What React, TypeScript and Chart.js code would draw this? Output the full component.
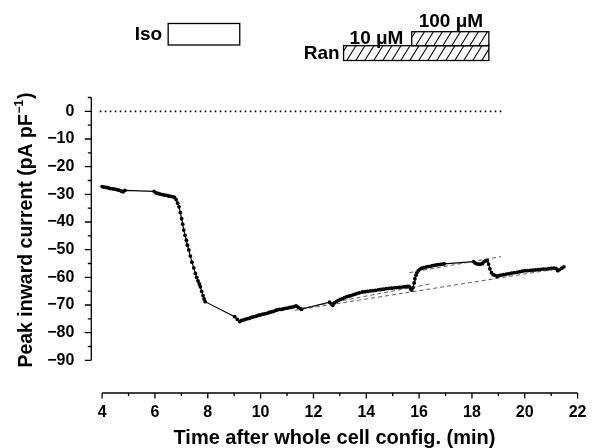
import React, { useEffect, useRef } from 'react';
import { Chart, registerables } from 'chart.js';

Chart.register(...registerables);

// ---- data ----
const timeMin = [
  4.0, 4.08, 4.16, 4.24, 4.32, 4.4, 4.48, 4.56, 4.64, 4.72, 4.79, 4.86,
  5.97, 6.04, 6.12, 6.2, 6.28, 6.36, 6.44, 6.52, 6.6, 6.68, 6.74, 6.8,
  6.86, 6.91, 6.96, 7.01, 7.05, 7.09, 7.14, 7.19, 7.23, 7.28, 7.34, 7.4, 7.47, 7.53, 7.58, 7.63, 7.68, 7.72, 7.77, 7.82, 7.86, 7.9,
  9.02, 9.12, 9.21, 9.28, 9.36, 9.44, 9.52, 9.6, 9.68, 9.75, 9.84, 9.92, 10.0, 10.08, 10.16, 10.24, 10.32, 10.4, 10.48, 10.56, 10.62,
  10.7, 10.78, 10.86, 10.94, 11.02, 11.1, 11.18, 11.26, 11.34, 11.42, 11.5, 11.55,
  12.61, 12.68, 12.73, 12.8, 12.87, 12.95, 13.02, 13.1, 13.18, 13.26, 13.34, 13.42, 13.5, 13.58, 13.66, 13.74, 13.85, 13.95,
  14.05, 14.15, 14.25, 14.35, 14.45, 14.55, 14.65, 14.75, 14.85, 14.95, 15.05, 15.15, 15.25, 15.35, 15.45, 15.55, 15.62,
  15.68, 15.72, 15.77, 15.81, 15.84, 15.88, 15.92, 15.97, 16.03, 16.1, 16.18, 16.26, 16.34, 16.42, 16.5, 16.58, 16.66, 16.74, 16.82, 16.9, 16.95,
  18.06, 18.12, 18.18, 18.25, 18.32, 18.4, 18.46, 18.52, 18.58, 18.63, 18.68, 18.74, 18.8, 18.87, 18.95,
  19.02, 19.1, 19.2, 19.3, 19.4, 19.5, 19.6, 19.7, 19.8, 19.9, 20.0, 20.1, 20.2, 20.3, 20.4, 20.5, 20.6, 20.7, 20.8, 20.9,
  21.0, 21.1, 21.18, 21.25, 21.32, 21.4, 21.48,
];
const currentPApF = [
  -27.2, -27.4, -27.5, -27.7, -27.9, -28.0, -28.1, -28.3, -28.5, -28.8, -29.1, -28.6,
  -28.9, -29.5, -29.7, -29.9, -30.1, -30.3, -30.4, -30.6, -30.7, -30.9, -31.1, -31.9,
  -33.2, -34.5, -36.6, -38.8, -40.8, -42.9, -44.8, -46.6, -48.4, -50.1, -52.3, -54.5, -56.6, -58.6, -60.0, -61.3, -62.4, -63.4, -65.1, -66.6, -67.8, -68.8,
  -74.2, -75.2, -76.0, -75.6, -75.4, -75.1, -74.9, -74.7, -74.4, -74.2, -74.0, -73.7, -73.6, -73.3, -73.2, -73.0, -72.7, -72.5, -72.3, -72.0, -71.8,
  -71.6, -71.6, -71.4, -71.2, -71.1, -70.9, -70.8, -70.6, -70.3, -70.8, -71.3, -71.5,
  -69.0, -69.6, -70.1, -69.2, -68.7, -68.3, -68.0, -67.7, -67.3, -67.0, -66.8, -66.6, -66.3, -66.1, -65.8, -65.6, -65.3, -65.2,
  -65.1, -64.9, -64.8, -64.7, -64.5, -64.4, -64.3, -64.1, -64.0, -63.9, -63.8, -63.7, -63.6, -63.5, -63.4, -63.3, -63.3,
  -64.2, -64.6, -63.7, -62.0, -60.5, -59.2, -58.3, -57.6, -57.1, -56.7, -56.5, -56.3, -56.1, -56.0, -55.8, -55.7, -55.5, -55.4, -55.3, -55.2, -55.1,
  -54.3, -54.8, -55.1, -55.2, -55.2, -55.0, -54.3, -54.0, -53.9, -55.2, -56.9, -58.3, -59.0, -59.3, -59.6,
  -59.4, -59.2, -59.0, -58.8, -58.7, -58.5, -58.3, -58.2, -58.0, -57.8, -57.6, -57.6, -57.5, -57.4, -57.3, -57.2, -57.1, -57.0, -57.0, -56.9,
  -56.8, -56.7, -56.8, -57.6, -57.2, -56.7, -56.2,
];

// thin regression lines
const fitLowerTime = [11.3, 21.45];
const fitLowerCurrent = [-71.9, -56.6];
const fitMiddleTime = [11.55, 16.47];
const fitMiddleCurrent = [-71.2, -62.3];
const fitUpperTime = [15.63, 19.1];
const fitUpperCurrent = [-58.3, -52.5];

// zero reference (dotted)
const zeroLineTime = [3.91, 19.24];
const zeroLineCurrent = [0, 0];

// drug application periods (min)
const isoPeriod = [6.5, 9.21];
const ran10Period = [13.14, 18.64];
const ran100Period = [15.72, 18.64];

// axes
const xMajorTicks = [4, 6, 8, 10, 12, 14, 16, 18, 20, 22];
const xMinorTicks = [5, 7, 9, 11, 13, 15, 17, 19, 21];
const yMajorTicks = [-90, -80, -70, -60, -50, -40, -30, -20, -10, 0];
const yMinorTicks = [-85, -75, -65, -55, -45, -35, -25, -15, -5, 5];

const FONT = '"Liberation Sans", Arial, Helvetica, sans-serif';

const overlayPlugin = {
  id: 'overlay',
  afterDraw(chart: any) {
    const { ctx, chartArea, scales } = chart;
    const x = scales.x;
    const y = scales.y;
    ctx.save();
    ctx.strokeStyle = '#000';
    ctx.fillStyle = '#000';
    ctx.lineWidth = 1.3;
    ctx.lineCap = 'butt';

    // y axis line and ticks
    const yx = chartArea.left;
    const yTop = y.getPixelForValue(Math.max(...yMinorTicks, ...yMajorTicks));
    const yBot = y.getPixelForValue(Math.min(...yMinorTicks, ...yMajorTicks));
    ctx.beginPath();
    ctx.moveTo(yx, yTop);
    ctx.lineTo(yx, yBot);
    yMajorTicks.forEach((v) => {
      const p = y.getPixelForValue(v);
      ctx.moveTo(yx, p);
      ctx.lineTo(yx - 6.5, p);
    });
    yMinorTicks.forEach((v) => {
      const p = y.getPixelForValue(v);
      ctx.moveTo(yx, p);
      ctx.lineTo(yx - 3.5, p);
    });
    ctx.stroke();

    // x axis line and ticks
    const xy = chartArea.bottom;
    const xL = x.getPixelForValue(xMajorTicks[0]);
    const xR = x.getPixelForValue(xMajorTicks[xMajorTicks.length - 1]);
    ctx.beginPath();
    ctx.moveTo(xL, xy);
    ctx.lineTo(xR, xy);
    xMajorTicks.forEach((v) => {
      const p = x.getPixelForValue(v);
      ctx.moveTo(p, xy);
      ctx.lineTo(p, xy + 5.5);
    });
    xMinorTicks.forEach((v) => {
      const p = x.getPixelForValue(v);
      ctx.moveTo(p, xy);
      ctx.lineTo(p, xy + 3);
    });
    ctx.stroke();

    // y axis title with superscript
    ctx.save();
    ctx.translate(31.7, 230);
    ctx.rotate(-Math.PI / 2);
    const mainFont = `bold 19.5px ${FONT}`;
    const supFont = `bold 12px ${FONT}`;
    const main = 'Peak inward current (pA pF';
    const sup = '\u22121';
    const close = ')';
    ctx.font = mainFont;
    const wMain = ctx.measureText(main).width;
    const wClose = ctx.measureText(close).width;
    ctx.font = supFont;
    const wSup = ctx.measureText(sup).width;
    const total = wMain + wSup + wClose + 1.5;
    const start = -total / 2;
    ctx.textAlign = 'left';
    ctx.textBaseline = 'alphabetic';
    ctx.font = mainFont;
    ctx.fillText(main, start, 0);
    ctx.font = supFont;
    ctx.fillText(sup, start + wMain + 0.5, -8.5);
    ctx.font = mainFont;
    ctx.fillText(close, start + wMain + wSup + 1.5, 0);
    ctx.restore();

    // drug application boxes
    const drawHatch = (l: number, t: number, r: number, b: number) => {
      ctx.save();
      ctx.beginPath();
      ctx.rect(l, t, r - l, b - t);
      ctx.clip();
      ctx.lineWidth = 1.1;
      ctx.beginPath();
      const h = b - t;
      for (let sx = l - h; sx < r + h; sx += 9) {
        ctx.moveTo(sx, b);
        ctx.lineTo(sx + h * 0.62, t);
      }
      ctx.stroke();
      ctx.restore();
    };
    ctx.lineWidth = 1.3;
    // Iso
    const isoL = x.getPixelForValue(isoPeriod[0]);
    const isoR = x.getPixelForValue(isoPeriod[1]);
    ctx.strokeRect(isoL, 23.5, isoR - isoL, 21.5);
    // Ran low (10 uM, continuing)
    const rL = x.getPixelForValue(ran10Period[0]);
    const rR = x.getPixelForValue(ran10Period[1]);
    drawHatch(rL, 45.7, rR, 60.5);
    ctx.lineWidth = 1.3;
    ctx.strokeRect(rL, 45.7, rR - rL, 14.8);
    // Ran high (100 uM)
    const hL = x.getPixelForValue(ran100Period[0]);
    const hR = x.getPixelForValue(ran100Period[1]);
    drawHatch(hL, 31.7, hR, 45.7);
    ctx.lineWidth = 1.3;
    ctx.strokeRect(hL, 31.7, hR - hL, 14);

    ctx.font = `bold 19px ${FONT}`;
    ctx.textBaseline = 'middle';
    ctx.textAlign = 'right';
    ctx.fillText('Iso', isoL - 6, 35);
    ctx.fillText('Ran', rL - 4, 54);
    ctx.textAlign = 'left';
    ctx.fillText('10 \u03bcM', rL + 6, 38.5);
    ctx.fillText('100 \u03bcM', hL + 7, 22);

    ctx.restore();
  },
};

function App() {
  const canvasRef = useRef<HTMLCanvasElement | null>(null);

  useEffect(() => {
    if (!canvasRef.current) return;
    Chart.defaults.font.family = FONT;
    Chart.defaults.color = '#000';

    const pts = (xs: number[], ys: number[]) => xs.map((v, i) => ({ x: v, y: ys[i] }));
    const fitStyle = {
      borderColor: '#333',
      borderWidth: 0.8,
      borderDash: [4, 3],
      pointRadius: 0,
      tension: 0,
    };

    const chart = new Chart(canvasRef.current, {
      type: 'line',
      data: {
        datasets: [
          {
            data: pts(zeroLineTime, zeroLineCurrent),
            borderColor: '#000',
            borderWidth: 1.6,
            borderDash: [1.6, 3.4],
            pointRadius: 0,
          },
          { data: pts(fitLowerTime, fitLowerCurrent), ...fitStyle },
          { data: pts(fitMiddleTime, fitMiddleCurrent), ...fitStyle },
          { data: pts(fitUpperTime, fitUpperCurrent), ...fitStyle },
          {
            data: pts(timeMin, currentPApF),
            borderColor: '#000',
            borderWidth: 1.2,
            pointRadius: 1.9,
            pointBorderWidth: 0,
            pointBackgroundColor: '#000',
            tension: 0,
          },
        ],
      },
      options: {
        responsive: false,
        animation: false,
        devicePixelRatio: 1,
        layout: { padding: { left: 0, right: 12.2, top: 97.5, bottom: 0 } },
        plugins: {
          legend: { display: false },
          tooltip: { enabled: false },
        },
        scales: {
          x: {
            type: 'linear',
            min: 3.59,
            max: 22,
            grid: { display: false, drawTicks: false },
            border: { display: false },
            afterBuildTicks: (scale: any) => {
              scale.ticks = xMajorTicks.map((v) => ({ value: v }));
            },
            afterFit: (scale: any) => {
              scale.height = 55;
            },
            ticks: {
              autoSkip: false,
              maxRotation: 0,
              padding: 9.5,
              font: { size: 16, weight: 'bold' },
              color: '#000',
              callback: (v: any) => String(v),
            },
            title: {
              display: true,
              text: 'Time after whole cell config. (min)',
              font: { size: 20, weight: 'bold', lineHeight: 1 },
              padding: { top: 0, bottom: 0 },
              color: '#000',
            },
          },
          y: {
            type: 'linear',
            min: -101.8,
            max: 5,
            grid: { display: false, drawTicks: false },
            border: { display: false },
            afterBuildTicks: (scale: any) => {
              scale.ticks = yMajorTicks.map((v) => ({ value: v }));
            },
            afterFit: (scale: any) => {
              scale.width = 91.3;
            },
            ticks: {
              autoSkip: false,
              padding: 17,
              font: { size: 16, weight: 'bold' },
              color: '#000',
              callback: (v: any) => (Number(v) === 0 ? '0' : '\u2212' + Math.abs(Number(v))),
            },
          },
        },
      },
      plugins: [overlayPlugin],
    } as any);

    return () => chart.destroy();
  }, []);

  return (
    <div style={{ position: 'fixed', left: 0, top: 0, width: 596, height: 448, background: '#fff' }}>
      <canvas ref={canvasRef} width={596} height={448} style={{ display: 'block', width: 596, height: 448 }} />
    </div>
  );
}

export default App;
